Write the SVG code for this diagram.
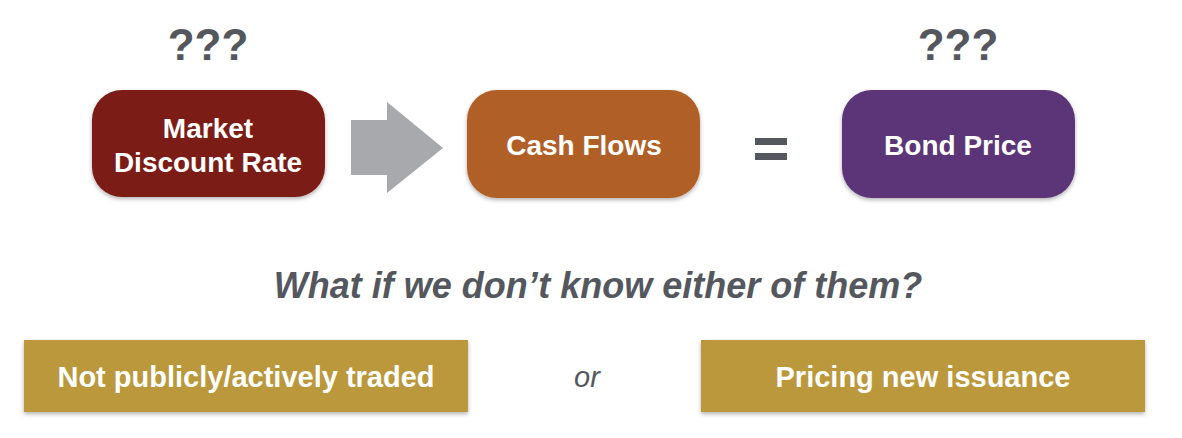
<svg xmlns="http://www.w3.org/2000/svg" width="1182" height="438" viewBox="0 0 1182 438">
<defs>
<filter id="sh" x="-10%" y="-10%" width="120%" height="130%">
<feDropShadow dx="0" dy="2" stdDeviation="2" flood-color="#000" flood-opacity="0.3"/>
</filter>
<style>
.t{font-family:"Liberation Sans",Arial,sans-serif;font-weight:bold;fill:#fff;text-anchor:middle;font-size:28px}
.b{font-size:29px}
.q{font-family:"Liberation Sans",Arial,sans-serif;font-weight:bold;fill:#54585e;text-anchor:middle;font-size:44px}
.gold{fill:#bb983a;filter:url(#sh)}
</style>
</defs>
<rect width="1182" height="438" fill="#fff"/>
<text class="q" x="208" y="60">???</text>
<text class="q" x="958" y="60">???</text>
<g id="market">
<rect x="92" y="90" width="233" height="107" rx="30" fill="#7b1f12" filter="url(#sh)"/>
<text class="t" x="208" y="138">Market</text>
<text class="t" x="208" y="172">Discount Rate</text>
</g>
<g id="connectors">
<polygon points="351,120 387,120 387,102 443,148 387,193 387,175 351,175" fill="#a7a9ac"/>
</g>
<g id="cashflows">
<rect x="467" y="90" width="233" height="108" rx="30" fill="#b06028" filter="url(#sh)"/>
<text class="t" x="584" y="155">Cash Flows</text>
</g>
<g id="equals">
<rect x="755" y="138" width="32" height="7" fill="#54585e"/>
<rect x="755" y="153" width="32" height="7" fill="#54585e"/>
</g>
<g id="bondprice">
<rect x="842" y="90" width="233" height="108" rx="30" fill="#5b3478" filter="url(#sh)"/>
<text class="t" x="958" y="155">Bond Price</text>
</g>
<text x="598" y="298" font-family="Liberation Sans, Arial, sans-serif" font-weight="bold" font-style="italic" font-size="36" fill="#54585e" text-anchor="middle">What if we don’t know either of them?</text>
<g id="notpublic">
<rect class="gold" x="24" y="340" width="444" height="72"/>
<text class="t b" x="246" y="387">Not publicly/actively traded</text>
</g>
<text x="587" y="387" font-family="Liberation Sans, Arial, sans-serif" font-style="italic" font-size="29" fill="#54585e" text-anchor="middle">or</text>
<g id="newissuance">
<rect class="gold" x="701" y="340" width="444" height="72"/>
<text class="t b" x="923" y="387">Pricing new issuance</text>
</g>
</svg>
